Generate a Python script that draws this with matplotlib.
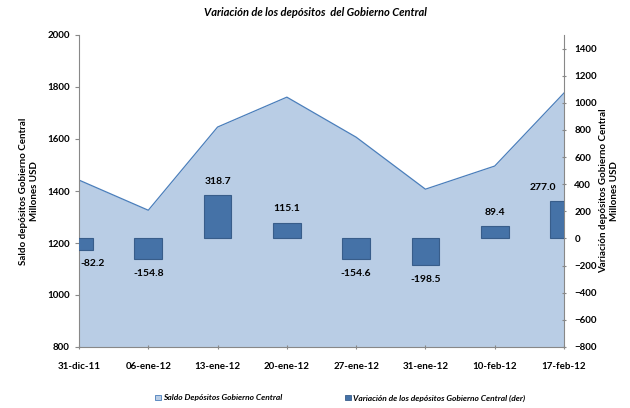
import matplotlib.pyplot as plt
import numpy as np
from matplotlib.patches import Patch

# datos
fechas = ["31-dic-11", "06-ene-12", "13-ene-12", "20-ene-12",
          "27-ene-12", "31-ene-12", "10-feb-12", "17-feb-12"]
saldo = [1442, 1326, 1646, 1761, 1607, 1407, 1496, 1777]
variacion = [-82.2, -154.8, 318.7, 115.1, -154.6, -198.5, 89.4, 277.0]

plt.rcParams['font.family'] = ['Lato', 'DejaVu Sans']
plt.rcParams['font.weight'] = 'bold'

fig = plt.figure(figsize=(6.3, 4.08), dpi=100)
ax = fig.add_axes([79/630, 1-347/408, (564-79)/630, (347-35)/408])
x = np.arange(len(fechas))

ax.fill_between(x, 800, saldo, color='#B9CDE5', lw=0, zorder=1)
ax.plot(x, saldo, color='#4A7EBB', lw=0.9, zorder=2)
ax.set_xlim(0, len(fechas)-1)
ax.set_ylim(800, 2000)
ax.set_yticks(np.arange(800, 2001, 200))
ax.set_xticks(x)
ax.set_xticklabels(fechas)
ax.tick_params(axis='x', length=3, direction='inout', colors='#888888', labelcolor='black',
               labelsize=7, pad=9)
ax.tick_params(axis='y', length=3, direction='out', colors='#888888', labelcolor='black',
               labelsize=7)
for s in ['top', 'right']:
    ax.spines[s].set_visible(False)
for s in ['left', 'bottom']:
    ax.spines[s].set_color('#888888')

ax2 = ax.twinx()
ax2.bar(x, variacion, width=0.4, color='#4572A7', edgecolor='#385D8A', lw=0.8, zorder=3)
ax2.set_ylim(-800, 1500)
ax2.set_yticks(np.arange(-800, 1401, 200))
ax2.tick_params(axis='y', length=3, direction='inout', colors='#888888', labelcolor='black',
                labelsize=7, pad=6)
for s in ['top', 'left', 'bottom']:
    ax2.spines[s].set_visible(False)
ax2.spines['right'].set_color('#888888')

# titulos de ejes
fig.text(29/630, 1-191/408, "Saldo depósitos Gobierno Central\nMillones USD", rotation=90,
         ha='center', va='center', multialignment='center', fontsize=7, fontweight='bold',
         linespacing=1.4)
fig.text(609/630, 1-191/408, "Variación depósitos Gobierno Central\nMillones USD", rotation=90,
         ha='center', va='center', multialignment='center', fontsize=7, fontweight='bold',
         linespacing=1.4)

n = len(variacion)
for i, v in enumerate(variacion):
    dy = 10 if v > 0 else -10
    ha = 'center'
    dx = 0
    if i == 0:
        ha = 'left'
        dx = 1
    elif i == n - 1:
        ha = 'right'
        dx = -6
    ax2.annotate(f"{v:.1f}", (i, v), xytext=(dx, dy), textcoords='offset points',
                 ha=ha, va='center', fontsize=7.5, fontweight='bold', zorder=5)

fig.text(0.5, 1-12/408, "Variación de los depósitos  del Gobierno Central", ha='center',
         va='center', fontsize=8, fontweight='bold', style='italic')

# leyenda
handles = [Patch(facecolor='#B9CDE5', edgecolor='#4A7EBB', lw=0.6),
           Patch(facecolor='#4572A7', edgecolor='#385D8A', lw=0.6)]
labels = ["Saldo Depósitos Gobierno Central",
          "Variación de los depósitos Gobierno Central (der)"]
fig.legend(handles, labels, loc='center', bbox_to_anchor=(340/630, 1-398/408), ncol=2,
           frameon=False, prop={'size': 6, 'weight': 'bold', 'style': 'italic'},
           handlelength=0.7, handleheight=0.7, handletextpad=0.3, columnspacing=7.5)

fig.savefig("out.png", dpi=100)
